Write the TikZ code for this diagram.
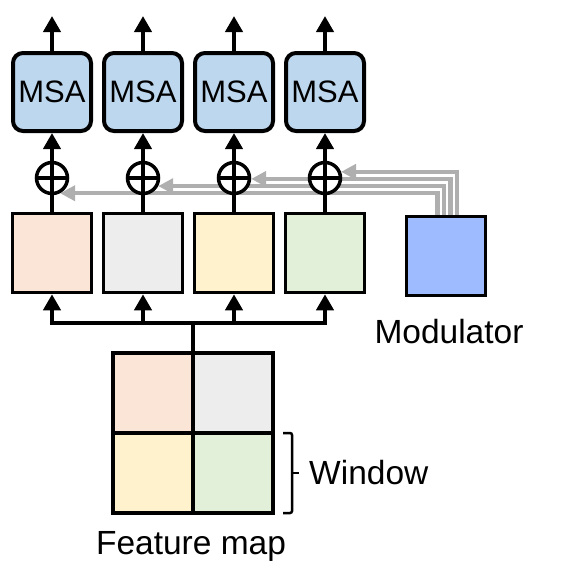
\documentclass[tikz,border=0pt]{standalone}
\usepackage{fontspec}
\setmainfont{Liberation Sans}
\usetikzlibrary{arrows.meta}

\definecolor{msablue}{HTML}{BDD7EE}
\definecolor{winpeach}{HTML}{FBE5D6}
\definecolor{wingray}{HTML}{EDEDED}
\definecolor{winyellow}{HTML}{FFF2CC}
\definecolor{wingreen}{HTML}{E2F0D9}
\definecolor{modblue}{HTML}{9FBBFF}
\definecolor{modgray}{HTML}{AFAFAF}

\begin{document}
\begin{tikzpicture}[x=1pt, y=-1pt, >={Triangle[width=17pt,length=16pt]},
    msa/.style={draw, line width=4pt, rounded corners=10pt, fill=msablue, minimum size=78pt, inner sep=0pt, font=\fontsize{31}{34}\selectfont},
    win/.style={draw, line width=3.5pt, minimum size=79pt, inner sep=0pt},
    cell/.style={draw, line width=3.5pt, minimum size=80pt, inner sep=0pt},
    plus/.style={draw, circle, line width=3.5pt, fill=white, minimum size=31pt, inner sep=0pt,
        path picture={\draw[line width=3.5pt] (path picture bounding box.north) -- (path picture bounding box.south)
            (path picture bounding box.west) -- (path picture bounding box.east);}},
    link/.style={line width=4pt},
    modline/.style={draw=modgray, line width=4.5pt, -{Triangle[width=15pt,length=15pt]}},
    lbl/.style={inner sep=0pt, font=\fontsize{33.5}{38}\selectfont}]
    \useasboundingbox (0, 0) rectangle (567, 579);

    % windows, merging and attention
    \foreach \i/\x/\c in {1/52/winpeach, 2/143/wingray, 3/234/winyellow, 4/325/wingreen} {
        \node[msa] (msa\i) at (\x, 92) {MSA};
        \node[win, fill=\c] (win\i) at (\x, 253) {};
        \coordinate (plus\i) at (\x, 178);
        \coordinate (out\i) at (\x, 16);
    }
    \node[win, line width=3pt, fill=modblue] (mod) at (445.5, 255.5) {};
    \node[lbl, anchor=base] (modtext) at (449, 343) {Modulator};

    % modulator to each window
    \foreach \i/\dx/\a in {1/-8/-62, 2/-1.5/-28, 3/5/-3, 4/11.5/21}
        \draw[modline] ([xshift=\dx pt]mod.north) |- ([shift={(\a:17.25pt)}]plus\i);

    \foreach \i in {1,...,4} {
        \node[plus] (add\i) at (plus\i) {};
        \draw[link] (win\i.north) -- (add\i.south);
        \draw[link, ->] (add\i.north) -- (msa\i.south);
        \draw[link, ->] (msa\i.north) -- (out\i);
    }

    % feature map
    \node[cell, fill=winpeach] (fm1) at (153, 393) {};
    \node[cell, fill=wingray] (fm2) at (233, 393) {};
    \node[cell, fill=winyellow] (fm3) at (153, 473) {};
    \node[cell, fill=wingreen] (fm4) at (233, 473) {};
    \node[lbl, anchor=base] (fmtext) at (191, 554) {Feature map};

    \coordinate (bus) at (193, 323);
    \draw[link] (bus) -- (bus |- fm1.north);
    \foreach \i in {1,...,4}
        \draw[link, ->] (bus) -| (win\i.south);

    % window bracket
    \draw[line width=2.5pt, rounded corners=2pt] (283, 433) -- (292, 433) -- (292, 513) -- (283, 513);
    \draw[line width=2.5pt] (292, 473) -- (299, 473);
    \node[lbl, anchor=base west] (wintext) at (309, 484) {Window};
\end{tikzpicture}
\end{document}
